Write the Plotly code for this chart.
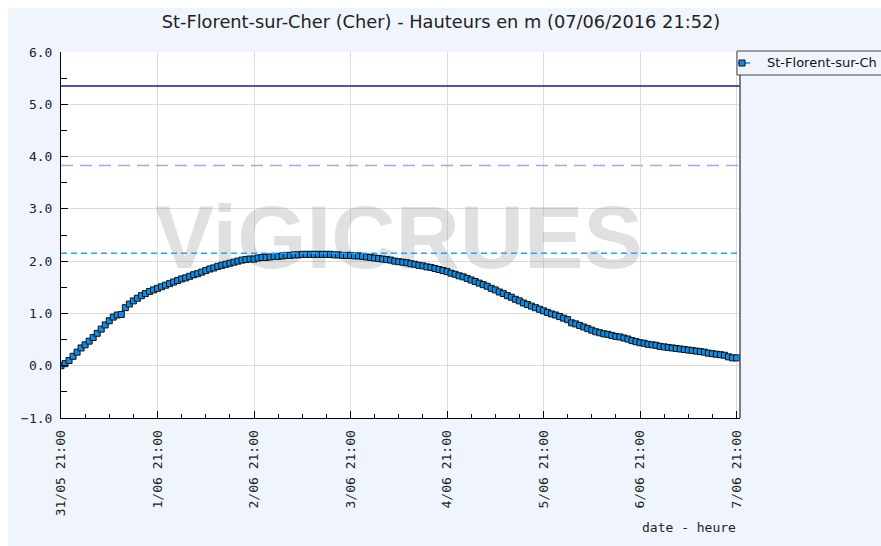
import plotly.graph_objects as go
import pandas as pd

# ---- data ----
start_time = "2016-05-31 21:00"
end_time = "2016-06-07 21:52"
station = "St-Florent-sur-Ch"
title_text = "St-Florent-sur-Cher (Cher) - Hauteurs en m (07/06/2016 21:52)"
x_title = "date - heure"

heights = [
    0.00, 0.04, 0.10, 0.18, 0.26, 0.34, 0.40, 0.47, 0.54, 0.62,
    0.70, 0.78, 0.86, 0.93, 0.97, 0.98, 1.11, 1.18, 1.24, 1.29,
    1.34, 1.38, 1.42, 1.45, 1.48, 1.51, 1.54, 1.57, 1.60, 1.63,
    1.66, 1.68, 1.71, 1.74, 1.76, 1.79, 1.82, 1.85, 1.87, 1.90,
    1.92, 1.94, 1.96, 1.98, 2.00, 2.02, 2.03, 2.04, 2.04, 2.06,
    2.07, 2.07, 2.08, 2.09, 2.09, 2.10, 2.11, 2.11, 2.12, 2.12,
    2.13, 2.13, 2.13, 2.13, 2.13, 2.13, 2.13, 2.13, 2.12, 2.12,
    2.11, 2.11, 2.11, 2.10, 2.10, 2.09, 2.08, 2.07, 2.06, 2.05,
    2.04, 2.03, 2.02, 2.00, 1.99, 1.98, 1.97, 1.95, 1.94, 1.92,
    1.91, 1.89, 1.88, 1.86, 1.84, 1.82, 1.80, 1.77, 1.75, 1.72,
    1.70, 1.67, 1.64, 1.61, 1.58, 1.55, 1.52, 1.48, 1.45, 1.41,
    1.38, 1.34, 1.31, 1.27, 1.24, 1.20, 1.17, 1.14, 1.11, 1.08,
    1.05, 1.02, 0.99, 0.97, 0.94, 0.91, 0.88, 0.82, 0.80, 0.77,
    0.74, 0.71, 0.68, 0.65, 0.63, 0.61, 0.60, 0.58, 0.56, 0.55,
    0.53, 0.51, 0.48, 0.46, 0.44, 0.43, 0.41, 0.40, 0.39, 0.37,
    0.36, 0.35, 0.34, 0.33, 0.32, 0.31, 0.30, 0.29, 0.28, 0.27,
    0.26, 0.24, 0.23, 0.22, 0.21, 0.20, 0.17, 0.15, 0.15,
]
times = pd.date_range(start_time, periods=len(heights), freq="h")

# threshold levels (m)
level_high = 5.35
level_mid = 3.83
level_low = 2.15

y_range = [-1, 6]

bg = "#f0f4fd"
mono = "DejaVu Sans Mono"
blue = "#0b8de8"

fig = go.Figure()

# watermark (drawn under data)
fig.add_trace(go.Scatter(
    x=[pd.Timestamp("2016-06-04 09:00")], y=[2.3], mode="text",
    text=["ViGICRUES"], textposition="middle center",
    textfont=dict(family="Liberation Sans", size=89, color="rgba(160,160,160,0.32)", weight="bold"),
    showlegend=False, hoverinfo="skip",
))

fig.add_trace(go.Scatter(
    x=times, y=heights, mode="lines+markers", name=station,
    line=dict(color=blue, width=1),
    marker=dict(symbol="square", size=6, color=blue, line=dict(color="#111111", width=1)),
    showlegend=False,
))

# horizontal threshold lines
fig.add_shape(type="line", xref="paper", x0=0, x1=1, yref="y", y0=level_high, y1=level_high,
              line=dict(color="#1a1a8c", width=1.5))
fig.add_shape(type="line", xref="paper", x0=0, x1=1, yref="y", y0=level_mid, y1=level_mid,
              line=dict(color="#a3a3f5", width=1.5, dash="12px,7px"))
fig.add_shape(type="line", xref="paper", x0=0, x1=1, yref="y", y0=level_low, y1=level_low,
              line=dict(color="#22a0ff", width=1.5, dash="6px,4px"))
# right border
fig.add_shape(type="line", xref="paper", x0=1, x1=1, yref="paper", y0=0, y1=1,
              line=dict(color="#555555", width=1.5))

# legend box (custom, to match the original layout)
fig.add_shape(type="rect", xref="paper", yref="paper", x0=0.9956, x1=1.25, y0=0.9372, y1=1.0027,
              line=dict(color="#444444", width=1), fillcolor=bg)
fig.add_shape(type="line", xref="paper", yref="paper", x0=0.997, x1=1.0147, y0=0.970, y1=0.970,
              line=dict(color=blue, width=1.5))
fig.add_shape(type="rect", xref="paper", yref="paper", x0=0.9985, x1=1.0074, y0=0.9617, y1=0.9781,
              line=dict(color="#111111", width=1), fillcolor=blue)
fig.add_annotation(text=station, xref="paper", yref="paper", x=1.0368, y=0.970, xanchor="left",
                   yanchor="middle", showarrow=False,
                   font=dict(family="DejaVu Sans", size=13, color="#111"))

fig.add_annotation(text=x_title, xref="paper", yref="paper", x=0.997, y=-0.3005, xanchor="right",
                   yanchor="middle", showarrow=False,
                   font=dict(family=mono, size=13, color="#222"))

fig.update_layout(
    width=873, height=538,
    margin=dict(l=53, r=141, t=44, b=128),
    paper_bgcolor=bg, plot_bgcolor="white",
    title=dict(text=title_text, x=433 / 873, xref="container", xanchor="center",
               y=1 - 14 / 538, yanchor="middle",
               font=dict(family="DejaVu Sans", size=17.8, color="#222")),
    showlegend=False,
    xaxis=dict(
        type="date", range=[start_time, end_time],
        tick0=start_time, dtick=86400000, tickformat="%-d/%m %H:%M",
        tickangle=-90, ticks="inside", ticklen=7, tickcolor="black",
        ticklabelstandoff=6,
        showgrid=True, gridcolor="#dcdcdc", gridwidth=1,
        showline=True, linecolor="black", linewidth=1, zeroline=False,
        tickfont=dict(family=mono, size=13, color="#222"),
        minor=dict(dtick=6 * 3600000, tick0=start_time, ticks="inside", ticklen=4,
                   tickcolor="black", showgrid=False),
    ),
    yaxis=dict(
        range=y_range, dtick=1, tickformat=".1f",
        ticks="inside", ticklen=7, tickcolor="black",
        ticklabelstandoff=5,
        showgrid=True, gridcolor="#dcdcdc", gridwidth=1,
        showline=True, linecolor="black", linewidth=1, zeroline=False,
        tickfont=dict(family=mono, size=13, color="#222"),
        minor=dict(dtick=0.5, ticks="inside", ticklen=6, tickcolor="black", showgrid=False),
    ),
)

# page: keep the 8px white gap at top/left only; the chart background runs to the right/bottom edges
fig.write_html(
    "out.html",
    post_script=(
        "document.body.style.margin='8px 0 0 8px';"
        "document.documentElement.style.overflow='hidden';"
        "document.body.style.background='linear-gradient(#f0f4fd,#f0f4fd) 8px 8px / 100% 100% no-repeat, white';"
    ),
)
